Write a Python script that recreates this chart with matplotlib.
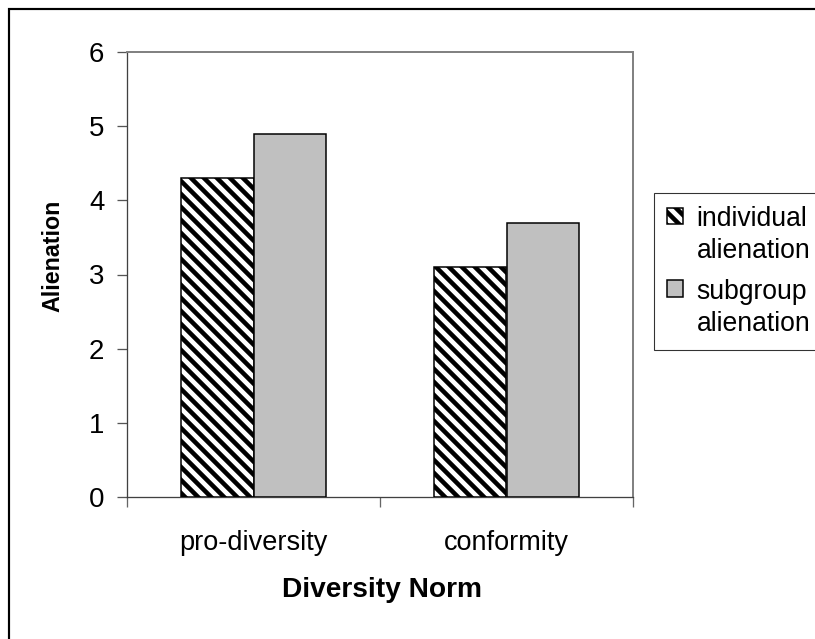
import numpy as np
import matplotlib
matplotlib.use("Agg")
import matplotlib.pyplot as plt
from matplotlib.patches import Rectangle
from matplotlib.legend_handler import HandlerPatch

categories = ["pro-diversity", "conformity"]
series_names = ["individual\nalienation", "subgroup\nalienation"]
individual = [4.3, 3.1]
subgroup = [4.9, 3.7]
y_ticks = [0, 1, 2, 3, 4, 5, 6]

W, H, DPI = 815, 639, 78
plt.rcParams["font.family"] = ["Liberation Sans", "DejaVu Sans"]
plt.rcParams["hatch.linewidth"] = 4.2


def fx(px):
    return px / W


def fy(py):
    return 1 - py / H


fig = plt.figure(figsize=(W / DPI, H / DPI), dpi=DPI)
ax = fig.add_axes([fx(127), fy(497), fx(633) - fx(127), fy(52) - fy(497)])

x = np.arange(len(categories))
bw = 0.285
b1 = ax.bar(x - bw / 2, individual, bw, facecolor="white", edgecolor="black",
            hatch="\\\\", linewidth=1.4, zorder=3)
b2 = ax.bar(x + bw / 2, subgroup, bw, facecolor="#c0c0c0", edgecolor="black",
            linewidth=1.4, zorder=3)

ax.set_xlim(-0.5, 1.5)
ax.set_ylim(0, 6)
ax.set_yticks(y_ticks)
ax.set_xticks(x)
ax.set_xticklabels(categories, fontsize=25)
ax.set_xticks([-0.5, 0.5, 1.5], minor=True)
ax.tick_params(axis="x", which="major", length=0, pad=30)
ax.tick_params(axis="x", which="minor", length=9, width=1.2, color="#666666")
ax.tick_params(axis="y", length=9, width=1.2, color="#555555", labelsize=25.5, pad=12)

for s in ["top", "right"]:
    ax.spines[s].set_color("#808080")
    ax.spines[s].set_linewidth(1.8)
for s in ["left", "bottom"]:
    ax.spines[s].set_color("#404040")
    ax.spines[s].set_linewidth(1.2)

fig.text(fx(53), fy(256), "Alienation", rotation=90, fontsize=21.5, fontweight="bold",
         ha="center", va="center")
fig.text(fx(382), fy(590), "Diversity Norm", fontsize=26, fontweight="bold",
         ha="center", va="center")


def top_line_patch(legend, orig_handle, xdescent, ydescent, width, height, fontsize):
    return Rectangle((-xdescent, -ydescent + fontsize * 0.75), width, height)


h1, h2 = b1.patches[0], b2.patches[0]
leg = fig.legend([h1, h2], series_names, loc="upper left",
                 bbox_to_anchor=(fx(654), fy(193)), bbox_transform=fig.transFigure,
                 fontsize=24.5, frameon=True, fancybox=False, edgecolor="black",
                 borderaxespad=0, borderpad=0.5, handlelength=0.6, handleheight=0.6,
                 handletextpad=0.5, labelspacing=0.55,
                 handler_map={h1: HandlerPatch(patch_func=top_line_patch),
                              h2: HandlerPatch(patch_func=top_line_patch)})
leg.get_frame().set_linewidth(1.0)
for t in leg.get_texts():
    t.set_linespacing(1.3)

fig.patches.append(Rectangle((fx(8.5), -0.2), 1.2, fy(9.5) + 0.2, transform=fig.transFigure,
                             fill=False, edgecolor="black", linewidth=2.0))

fig.savefig("out.png", dpi=DPI)
